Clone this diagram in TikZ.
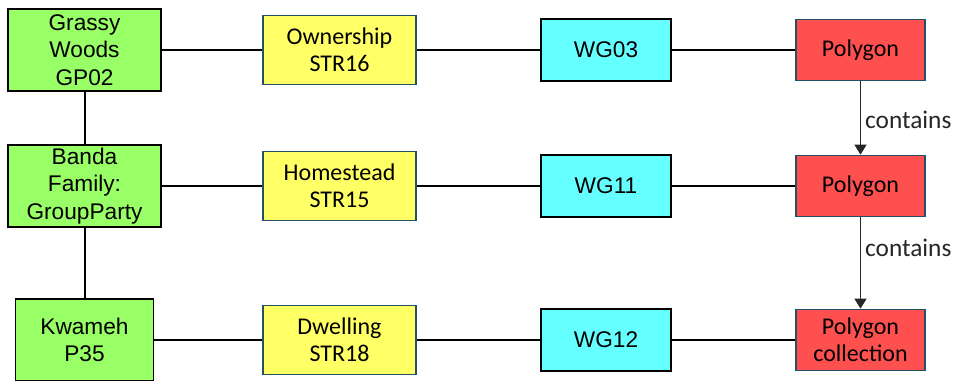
\documentclass[tikz,border=0pt]{standalone}
\usepackage{fontspec}
\newfontfamily\arialfont{Liberation Sans}
\newfontfamily\calibrifont{Carlito}
\usetikzlibrary{arrows.meta}
\definecolor{partygreen}{HTML}{99FF66}
\definecolor{rrryellow}{HTML}{FFFF66}
\definecolor{unitcyan}{HTML}{66FFFF}
\definecolor{shapered}{HTML}{FF5050}
\definecolor{edgeblue}{HTML}{24506A}
\tikzset{
  box/.style={draw, line width=1.3pt, align=center, inner sep=0pt},
  partybox/.style={box, fill=partygreen, draw=black, minimum width=114.75pt, minimum height=61pt,
    font=\arialfont\fontsize{17}{20.6}\selectfont},
  rrrbox/.style={box, fill=rrryellow, draw=edgeblue, minimum width=114.75pt, minimum height=51.75pt,
    font=\calibrifont\fontsize{18}{20.3}\selectfont},
  unitbox/.style={box, fill=unitcyan, draw=black, minimum width=97.5pt, minimum height=46.5pt,
    font=\arialfont\fontsize{17}{20.6}\selectfont},
  shapebox/.style={box, fill=shapered, draw=edgeblue, minimum width=96.75pt, minimum height=45.75pt,
    font=\calibrifont\fontsize{18}{20.3}\selectfont},
  link/.style={line width=1.5pt, black},
  containslink/.style={line width=1pt, black!85, -{Triangle[length=7.5pt, width=9pt]}},
  relname/.style={right, inner sep=3pt, font=\calibrifont\fontsize{19}{21}\selectfont}
}

\begin{document}
\begin{tikzpicture}[x=0.75pt, y=-0.75pt]
\useasboundingbox (0,0) rectangle (957,380);
% parties
\node[partybox] (g1) at (84.5,50) {Grassy\\Woods\\GP02};
\node[partybox] (g2) at (84.5,186) {Banda\\Family:\\GroupParty};
\node[partybox, minimum width=103.5pt] (g3) at (84.5,340) {Kwameh\\P35};
% rights
\node[rrrbox] (y1) at (339.5,50) {Ownership\\STR16};
\node[rrrbox] (y2) at (339.5,186) {Homestead\\STR15};
\node[rrrbox] (y3) at (339.5,340) {Dwelling\\STR18};
% spatial units
\node[unitbox] (c1) at (606,50) {WG03};
\node[unitbox] (c2) at (606,186) {WG11};
\node[unitbox] (c3) at (606,340) {WG12};
% geometries
\node[shapebox] (r1) at (860.5,50) {Polygon};
\node[shapebox] (r2) at (860.5,186) {Polygon};
\node[shapebox] (r3) at (860.5,340) {Polygon\\collection};
% connectors
\draw[link] (g1) -- (g2);
\draw[link] (g2) -- (g3);
\draw[link] (g1) -- (y1);
\draw[link] (g2) -- (y2);
\draw[link] (g3) -- (y3);
\draw[link] (y1) -- (c1);
\draw[link] (y2) -- (c2);
\draw[link] (y3) -- (c3);
\draw[link] (c1) -- (r1);
\draw[link] (c2) -- (r2);
\draw[link] (c3) -- (r3);
\draw[containslink] (r1) -- node[relname, pos=0.52] {contains} (r2);
\draw[containslink] (r2) -- node[relname, pos=0.33] {contains} (r3);
\end{tikzpicture}
\end{document}
